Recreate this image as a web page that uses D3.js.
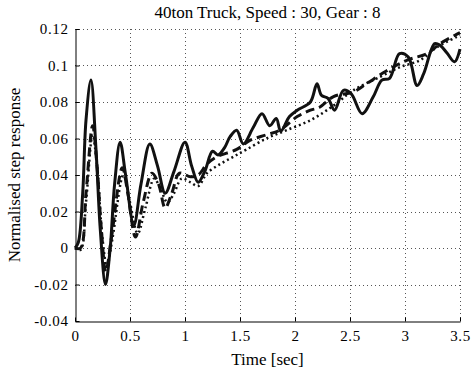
<!DOCTYPE html>
<html>
<head>
<meta charset="utf-8">
<script src="https://cdn.jsdelivr.net/npm/d3@7"></script>
<style>
  html, body { margin: 0; padding: 0; background: #fff; }
  svg { display: block; }
  svg text { font-family: "Liberation Serif", "Times New Roman", serif; fill: #000; }
</style>
</head>
<body>
<svg id="chart" width="471" height="373"></svg>
<script>
// Step response traces (time in seconds, normalised response)
const solidTime = [0, 0.03, 0.07, 0.1, 0.145, 0.19, 0.23, 0.277, 0.32, 0.36, 0.41, 0.46, 0.535, 0.6, 0.68, 0.75, 0.82, 0.9, 1.0, 1.06, 1.12, 1.18, 1.25, 1.3, 1.36, 1.41, 1.47, 1.53, 1.62, 1.7, 1.77, 1.83, 1.87, 1.95, 2.02, 2.14, 2.2, 2.24, 2.3, 2.36, 2.44, 2.51, 2.61, 2.71, 2.79, 2.86, 2.95, 3.03, 3.11, 3.17, 3.27, 3.32, 3.38, 3.45, 3.5];
const solidValues = [0, 0.003, 0.03, 0.07, 0.092, 0.055, 0.01, -0.02, 0.0, 0.035, 0.058, 0.04, 0.0125, 0.035, 0.057, 0.045, 0.03, 0.042, 0.058, 0.045, 0.036, 0.042, 0.053, 0.051, 0.055, 0.061, 0.0645, 0.057, 0.066, 0.0736, 0.067, 0.071, 0.064, 0.072, 0.0755, 0.08, 0.09, 0.0837, 0.082, 0.0755, 0.0864, 0.0846, 0.0736, 0.0827, 0.092, 0.093, 0.1065, 0.1046, 0.089, 0.0955, 0.112, 0.111, 0.107, 0.102, 0.109];

const dashedTime = [0, 0.05, 0.1, 0.16, 0.2, 0.24, 0.28, 0.33, 0.43, 0.48, 0.55, 0.62, 0.7, 0.76, 0.82, 0.88, 0.95, 1.05, 1.12, 1.2, 1.29, 1.47, 1.59, 1.74, 1.86, 2.02, 2.14, 2.22, 2.35, 2.53, 2.65, 2.83, 3.02, 3.2, 3.32, 3.5];
const dashedValues = [0, 0.0, 0.03, 0.067, 0.045, 0.01, -0.013, 0.005, 0.044, 0.03, 0.006, 0.025, 0.041, 0.035, 0.022, 0.03, 0.041, 0.039, 0.04, 0.046, 0.05, 0.054, 0.059, 0.062, 0.0645, 0.072, 0.0755, 0.077, 0.083, 0.0855, 0.09, 0.097, 0.103, 0.1065, 0.112, 0.118];

const dottedTime = [0, 0.05, 0.1, 0.16, 0.2, 0.25, 0.29, 0.34, 0.44, 0.5, 0.57, 0.64, 0.72, 0.78, 0.84, 0.9, 0.97, 1.05, 1.12, 1.2, 1.32, 1.44, 1.56, 1.74, 1.92, 2.14, 2.35, 2.53, 2.77, 2.95, 3.14, 3.29, 3.5];
const dottedValues = [0, -0.001, 0.025, 0.062, 0.045, 0.005, -0.01, 0.005, 0.04, 0.025, 0.008, 0.022, 0.038, 0.032, 0.025, 0.03, 0.038, 0.036, 0.034, 0.041, 0.046, 0.05, 0.054, 0.06, 0.0645, 0.07, 0.078, 0.0864, 0.0937, 0.099, 0.103, 0.11, 0.1165];

const xTicks = [0, 0.5, 1, 1.5, 2, 2.5, 3, 3.5];
const yTicks = [-0.04, -0.02, 0, 0.02, 0.04, 0.06, 0.08, 0.1, 0.12];
const xTickLabels = ["0", "0.5", "1", "1.5", "2", "2.5", "3", "3.5"];
const yTickLabels = ["-0.04", "-0.02", "0", "0.02", "0.04", "0.06", "0.08", "0.1", "0.12"];

const titleText = "40ton Truck, Speed : 30, Gear : 8";
const xLabelText = "Time [sec]";
const yLabelText = "Normalised step response";

const svg = d3.select("#chart");
const margin = { left: 75, right: 11, top: 29, bottom: 52 };
const W = 471, H = 373;
const serif = "'Liberation Serif', 'Times New Roman', serif";

const x = d3.scaleLinear().domain([0, 3.5]).range([margin.left, W - margin.right]);
const y = d3.scaleLinear().domain([-0.04, 0.12]).range([H - margin.bottom, margin.top]);

// dotted grid
const grid = svg.append("g").attr("stroke", "#555").attr("stroke-width", 1)
  .attr("stroke-dasharray", "1,3").attr("fill", "none");
xTicks.slice(1).forEach(t => {
  grid.append("line").attr("x1", Math.round(x(t)) + 0.5).attr("x2", Math.round(x(t)) + 0.5)
    .attr("y1", y(0.12)).attr("y2", y(-0.04));
});
yTicks.slice(1).forEach(v => {
  grid.append("line").attr("y1", Math.round(y(v)) + 0.5).attr("y2", Math.round(y(v)) + 0.5)
    .attr("x1", x(0)).attr("x2", x(3.5));
});

// axes (inward ticks, box off)
const yAxis = d3.axisLeft(y).tickValues(yTicks).tickSizeInner(-4).tickSizeOuter(0)
  .tickPadding(7).tickFormat((d, i) => yTickLabels[i]);
const xAxis = d3.axisBottom(x).tickValues(xTicks).tickSizeInner(-4).tickSizeOuter(0)
  .tickPadding(9).tickFormat((d, i) => xTickLabels[i]);

const gy = svg.append("g").attr("transform", `translate(${margin.left + 0.5},0)`).call(yAxis);
const gx = svg.append("g").attr("transform", `translate(0,${H - margin.bottom + 0.5})`).call(xAxis);
[gx, gy].forEach(g => {
  g.attr("font-family", serif).attr("font-size", 15);
  g.selectAll("path, line").attr("stroke", "#000").attr("stroke-width", 1);
  g.selectAll("text").style("font-family", serif).style("font-size", "15px")
    .style("letter-spacing", "0.6px").attr("fill", "#000");
});

// traces
const line = (ts, vs) => d3.line().curve(d3.curveCatmullRom.alpha(0.5))
  .x((d, i) => x(ts[i])).y(d => y(d))(vs);

svg.append("path").attr("d", line(dottedTime, dottedValues))
  .attr("fill", "none").attr("stroke", "#111").attr("stroke-width", 2.5)
  .attr("stroke-dasharray", "2,3");
svg.append("path").attr("d", line(dashedTime, dashedValues))
  .attr("fill", "none").attr("stroke", "#111").attr("stroke-width", 3)
  .attr("stroke-dasharray", "9,5");
svg.append("path").attr("d", line(solidTime, solidValues))
  .attr("fill", "none").attr("stroke", "#111").attr("stroke-width", 3)
  .attr("stroke-linejoin", "round");

// labels
svg.append("text").attr("x", (x(0) + x(3.5)) / 2).attr("y", 18)
  .attr("text-anchor", "middle").style("font-size", "17px").text(titleText);
svg.append("text").attr("x", (x(0) + x(3.5)) / 2).attr("y", 365)
  .attr("text-anchor", "middle").style("font-size", "17px").text(xLabelText);
svg.append("text").attr("transform", `translate(20,${(y(0.12) + y(-0.04)) / 2}) rotate(-90)`)
  .attr("text-anchor", "middle").style("font-size", "17px").text(yLabelText);
</script>
</body>
</html>
